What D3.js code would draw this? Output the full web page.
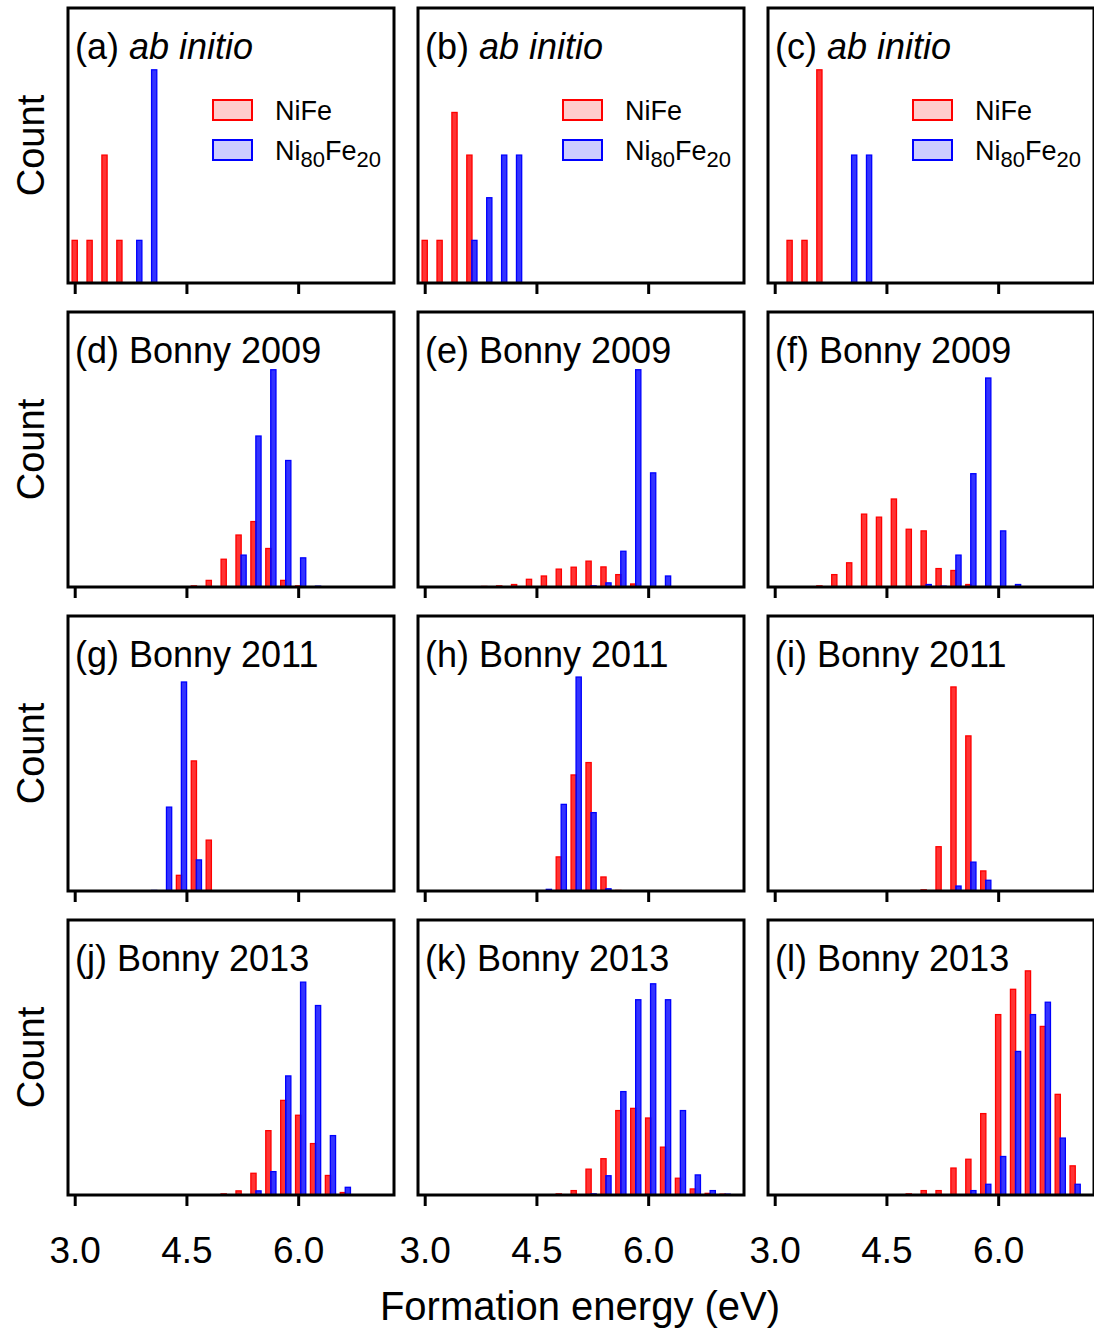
<!DOCTYPE html>
<html>
<head>
<meta charset="utf-8">
<script src="https://cdn.jsdelivr.net/npm/d3@7"></script>
<style>
  body { margin: 0; background: #fff; }
  svg text { font-family: "Liberation Sans", Arial, Helvetica, sans-serif; }
</style>
</head>
<body>
<svg id="chart" width="1094" height="1331"></svg>
<script>
// panel titles
var panelTags = ["(a)", "(b)", "(c)", "(d)", "(e)", "(f)", "(g)", "(h)", "(i)", "(j)", "(k)", "(l)"];
var potentials = ["ab initio", "ab initio", "ab initio",
                  "Bonny 2009", "Bonny 2009", "Bonny 2009",
                  "Bonny 2011", "Bonny 2011", "Bonny 2011",
                  "Bonny 2013", "Bonny 2013", "Bonny 2013"];

// histogram bins are 0.2 eV wide; start = energy of first bin with a bar
var binStep = 0.2;
var nifeStart = [3.0, 3.0, 3.2, 4.6, 3.8, 3.6, 4.4, 4.8, 5.0, 5.0, 4.8, 4.8];
var nifeCounts = [
  [1, 1, 3, 1],
  [1, 1, 4, 3],
  [1, 1, 5],
  [0.4, 2.4, 10.1, 18.9, 23.8, 14.0, 2.4, 0.4],
  [0.2, 0.4, 0.9, 2.8, 4.0, 6.5, 7.2, 9.4, 7.3, 4.5, 1.1],
  [0.4, 4.5, 8.8, 26.5, 25.4, 32.0, 21.0, 20.4, 6.7, 6.0, 0.9],
  [5.7, 47.3, 18.5],
  [12.4, 42.2, 46.7, 5.1, 0.2],
  [0.4, 16.1, 74.2, 56.4, 7.3],
  [0.4, 1.5, 7.9, 23.4, 34.4, 29.0, 18.7, 7.1, 0.9],
  [0.4, 1.6, 9.4, 13.2, 30.7, 31.5, 28.0, 17.4, 6.1, 2.2, 0.6, 0.3],
  [0.4, 1.6, 1.6, 9.8, 13.0, 29.6, 65.6, 74.8, 81.5, 61.3, 36.6, 10.6]
];
var ni80Start = [3.8, 3.6, 4.0, 5.2, 5.2, 5.0, 4.0, 4.6, 5.4, 5.4, 5.2, 5.6];
var ni80Counts = [
  [1, 5],
  [1, 2, 3, 3],
  [3, 3],
  [11.6, 54.9, 79.0, 46.0, 10.6, 0.3],
  [0.4, 1.5, 13.0, 79.0, 41.5, 4.0],
  [0.9, 0.3, 11.6, 41.2, 76.0, 20.4, 0.9],
  [0.2, 30.5, 76.0, 11.3],
  [0.6, 31.5, 77.8, 28.5, 0.8],
  [1.8, 10.5, 3.9],
  [1.5, 8.5, 43.3, 77.4, 68.9, 21.6, 2.8],
  [0.4, 7.0, 37.6, 71.0, 76.8, 71.0, 30.7, 7.3, 1.6, 0.3],
  [1.6, 3.9, 14.0, 52.2, 65.6, 70.1, 20.7, 3.9]
];
// top of the count axis for each panel (ab initio in configurations, Bonny relative)
var yTop = [6.45, 6.45, 6.45, 100, 100, 100, 100, 100, 100, 100, 100, 100];

var xDomain = [2.91, 7.3];
var xTicks = [3.0, 4.5, 6.0];
var seriesNames = ["NiFe", "Ni80Fe20"];
var colors = ["#ff0000", "#0000ff"];
var fills = ["rgba(255,0,0,0.8)", "rgba(0,0,255,0.8)"];

var W = 326, H = 275;
var colX = [68, 418, 768];
var rowY = [8, 312, 616, 920];
var barW = 0.07, blueShift = 0.067;

var svg = d3.select("#chart");

function panelBars(g, x, y, start, counts, shift, i) {
    var data = counts.map(function(c, j) { return {e: start + j * binStep + shift, c: c}; });
    g.selectAll("rect.s" + i)
	.data(data)
	.enter().append("rect")
	.attr("class", "s" + i)
	.attr("x", function(d) { return x(d.e - barW / 2); })
	.attr("width", function(d) { return x(d.e + barW / 2) - x(d.e - barW / 2); })
	.attr("y", function(d) { return y(d.c); })
	.attr("height", function(d) { return y(0) - y(d.c); })
	.attr("fill", fills[i])
	.attr("stroke", colors[i])
	.attr("stroke-width", 1.3);
}

for (var p = 0; p < 12; p++) {
    var row = Math.floor(p / 3), col = p % 3;
    var g = svg.append("g").attr("transform", "translate(" + colX[col] + "," + rowY[row] + ")");
    var x = d3.scaleLinear().domain(xDomain).range([0, 327]);
    var y = d3.scaleLinear().domain([0, yTop[p]]).range([H, 0]);

    panelBars(g, x, y, nifeStart[p], nifeCounts[p], 0, 0);
    panelBars(g, x, y, ni80Start[p], ni80Counts[p], blueShift, 1);

    // frame
    g.append("rect").attr("width", W).attr("height", H)
	.attr("fill", "none").attr("stroke", "#000").attr("stroke-width", 3);

    var axis = d3.axisBottom(x).tickValues(xTicks).tickSize(10).tickSizeOuter(0).tickPadding(31);
    if (row < 3) axis.tickFormat("");
    else axis.tickFormat(d3.format(".1f"));
    var ax = g.append("g").attr("transform", "translate(0," + (H + 1) + ")").call(axis);
    ax.select(".domain").remove();
    ax.selectAll("line").attr("stroke", "#000").attr("stroke-width", 3);
    ax.selectAll("text").attr("font-size", 37).attr("fill", "#000")
	.attr("font-family", "Liberation Sans, Arial, sans-serif");

    // panel label
    var t = g.append("text").attr("x", 7).attr("y", 51).attr("font-size", 36).attr("fill", "#000");
    t.append("tspan").text(panelTags[p] + " ");
    t.append("tspan").text(potentials[p]).attr("font-style", potentials[p] == "ab initio" ? "italic" : "normal");

    // legend only in top row
    if (row == 0) {
	for (var s = 0; s < 2; s++) {
	    g.append("rect").attr("x", 145).attr("y", 92 + s * 40).attr("width", 39).attr("height", 20)
		.attr("fill", colors[s]).attr("fill-opacity", 0.2)
		.attr("stroke", colors[s]).attr("stroke-width", 2);
	}
	g.append("text").attr("x", 207).attr("y", 112).attr("font-size", 27).text(seriesNames[0]);
	var lt = g.append("text").attr("x", 207).attr("y", 152).attr("font-size", 27);
	lt.append("tspan").text("Ni");
	lt.append("tspan").text("80").attr("font-size", 22).attr("dy", 7);
	lt.append("tspan").text("Fe").attr("dy", -7);
	lt.append("tspan").text("20").attr("font-size", 22).attr("dy", 7);
    }

    if (col == 0) {
	svg.append("text")
	    .attr("transform", "translate(44," + (rowY[row] + H / 2) + ") rotate(-90)")
	    .attr("text-anchor", "middle").attr("font-size", 38).text("Count");
    }
}

svg.append("text").attr("x", 580).attr("y", 1320).attr("text-anchor", "middle")
    .attr("font-size", 40).text("Formation energy (eV)");
</script>
</body>
</html>
